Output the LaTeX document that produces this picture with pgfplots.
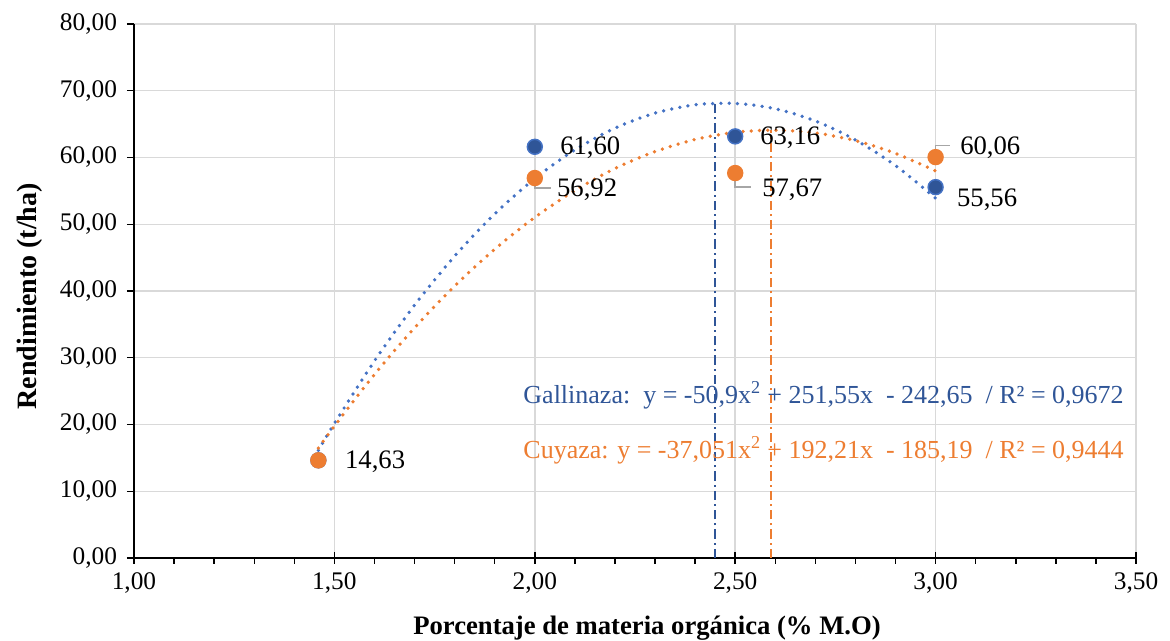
\documentclass[border=0pt]{standalone}
\usepackage{fontspec}
\setmainfont{Liberation Serif}
\usepackage{pgfplots}
\pgfplotsset{compat=1.18}

\definecolor{galB}{HTML}{2F5597}
\definecolor{galL}{HTML}{4472C4}
\definecolor{cuyO}{HTML}{ED7D31}
\definecolor{gridG}{HTML}{D9D9D9}
\definecolor{leadG}{HTML}{A6A6A6}

\begin{document}
\begin{tikzpicture}
\begin{axis}[
    scale only axis,
    width=751.5pt, height=400.5pt,
    xmin=1, xmax=3.5, ymin=0, ymax=80,
    enlargelimits=false,
    axis x line*=bottom, axis y line*=left,
    axis line style={-, black, line width=1.1pt},
    xtick={1,1.5,2,2.5,3,3.5},
    ytick={0,10,20,30,40,50,60,70,80},
    minor x tick num=4,
    xtick align=center, ytick align=outside,
    major tick length=5.25pt, minor tick length=4.5pt,
    tick style={black, line width=1.1pt},
    minor x tick style={yshift=-2.25pt},
    grid=major,
    major grid style={gridG, line width=1.1pt},
    /pgf/number format/.cd, fixed, fixed zerofill, precision=2, use comma, assume math mode=true,
    /pgfplots/.cd,
    ticklabel style={font=\fontsize{19}{22}\selectfont},
    xticklabel style={yshift=-5pt},
    yticklabel style={xshift=-4pt},
    xlabel={Porcentaje de materia orgánica (\% M.O)},
    ylabel={Rendimiento (t/ha)},
    xlabel style={at={(axis description cs:0.512,-0.131)}, anchor=center, font=\fontsize{20}{24}\selectfont\bfseries},
    ylabel style={at={(axis description cs:-0.104,0.49)}, anchor=center, rotate=0, font=\fontsize{21}{24}\selectfont\bfseries},
    clip=false,
]
% Gallinaza
\addplot[only marks, mark=*, mark size=5.6pt, mark options={fill=galB, draw=galL, line width=1.1pt}]
coordinates {(1.46,14.63) (2,61.60) (2.5,63.16) (3,55.56)};
% Cuyaza
\addplot[only marks, mark=*, mark size=5.6pt, mark options={fill=cuyO, draw=cuyO, line width=1.1pt}]
coordinates {(1.46,14.63) (2,56.92) (2.5,57.67) (3,60.06)};
% polynomial trend lines
\addplot[galL, line width=2.8pt, line cap=round, dash pattern=on 0pt off 6.2pt, smooth]
coordinates {(1.46,16.12) (1.5,20.15) (1.6,29.53) (1.7,37.88) (1.8,45.22) (1.9,51.55)
(2.0,56.85) (2.1,61.14) (2.2,64.40) (2.3,66.65) (2.4,67.89) (2.5,68.10) (2.6,67.30)
(2.7,65.47) (2.8,62.63) (2.9,58.78) (3.0,53.90)};
\addplot[cuyO, line width=2.8pt, line cap=round, dash pattern=on 0pt off 6.2pt, smooth]
coordinates {(1.46,16.46) (1.5,19.76) (1.6,27.50) (1.7,34.49) (1.8,40.74) (1.9,46.26)
(2.0,51.03) (2.1,55.06) (2.2,58.35) (2.3,60.89) (2.4,62.70) (2.5,63.77) (2.6,64.09)
(2.7,63.68) (2.8,62.52) (2.9,60.62) (3.0,57.98)};
% vertical lines at the maxima
\addplot[galB, line width=1.5pt, dash pattern=on 7pt off 3pt on 1.5pt off 3pt]
coordinates {(2.45,0) (2.45,68.2)};
\addplot[cuyO, line width=1.5pt, dash pattern=on 7pt off 3pt on 1.5pt off 3pt]
coordinates {(2.59,0) (2.59,64.1)};
% crossing major ticks on the x axis
\draw[black, line width=1.1pt] ([yshift=-4.5pt]axis cs:1,0) -- ([yshift=4.5pt]axis cs:1,0);
\draw[black, line width=1.1pt] ([yshift=-4.5pt]axis cs:1.5,0) -- ([yshift=4.5pt]axis cs:1.5,0);
\draw[black, line width=1.1pt] ([yshift=-4.5pt]axis cs:2,0) -- ([yshift=4.5pt]axis cs:2,0);
\draw[black, line width=1.1pt] ([yshift=-4.5pt]axis cs:2.5,0) -- ([yshift=4.5pt]axis cs:2.5,0);
\draw[black, line width=1.1pt] ([yshift=-4.5pt]axis cs:3,0) -- ([yshift=4.5pt]axis cs:3,0);
\draw[black, line width=1.1pt] ([yshift=-4.5pt]axis cs:3.5,0) -- ([yshift=4.5pt]axis cs:3.5,0);
% leader lines
\draw[leadG, line width=1.1pt] (axis cs:2,56.6) -- (axis cs:2,55.4) -- (axis cs:2.04,55.4);
\draw[leadG, line width=1.1pt] (axis cs:2.5,57.3) -- (axis cs:2.5,55.6) -- (axis cs:2.54,55.6);
\draw[leadG, line width=1.1pt] (axis cs:3,60.5) -- (axis cs:3,61.8) -- (axis cs:3.037,61.8);
% data labels
\begin{scope}[every node/.style={anchor=west, font=\fontsize{20}{24}\selectfont, inner sep=0pt}]
\node at (axis cs:2.063,61.42) {61,60};
\node at (axis cs:2.055,55.13) {56,92};
\node at (axis cs:2.562,62.92) {63,16};
\node at (axis cs:2.567,55.13) {57,67};
\node at (axis cs:3.061,61.42) {60,06};
\node at (axis cs:3.053,53.63) {55,56};
\node at (axis cs:1.526,14.38) {14,63};
\end{scope}
% equations
\node[anchor=east, inner sep=0pt, text=galB, font=\fontsize{19.5}{24}\selectfont] at (axis cs:3.47,24.4)
  {Gallinaza:\ \ y = -50,9x\textsuperscript{2} + 251,55x\ \ - 242,65\ \ / R² = 0,9672};
\node[anchor=east, inner sep=0pt, text=cuyO, font=\fontsize{19.5}{24}\selectfont] at (axis cs:3.47,16.2)
  {Cuyaza: y = -37,051x\textsuperscript{2} + 192,21x\ \ - 185,19\ \ / R² = 0,9444};
\end{axis}
\pgfresetboundingbox
\path ([shift={(-100.5pt,-62.25pt)}]current axis.south west) rectangle ([shift={(25.5pt,18pt)}]current axis.north east);
\end{tikzpicture}
\end{document}
